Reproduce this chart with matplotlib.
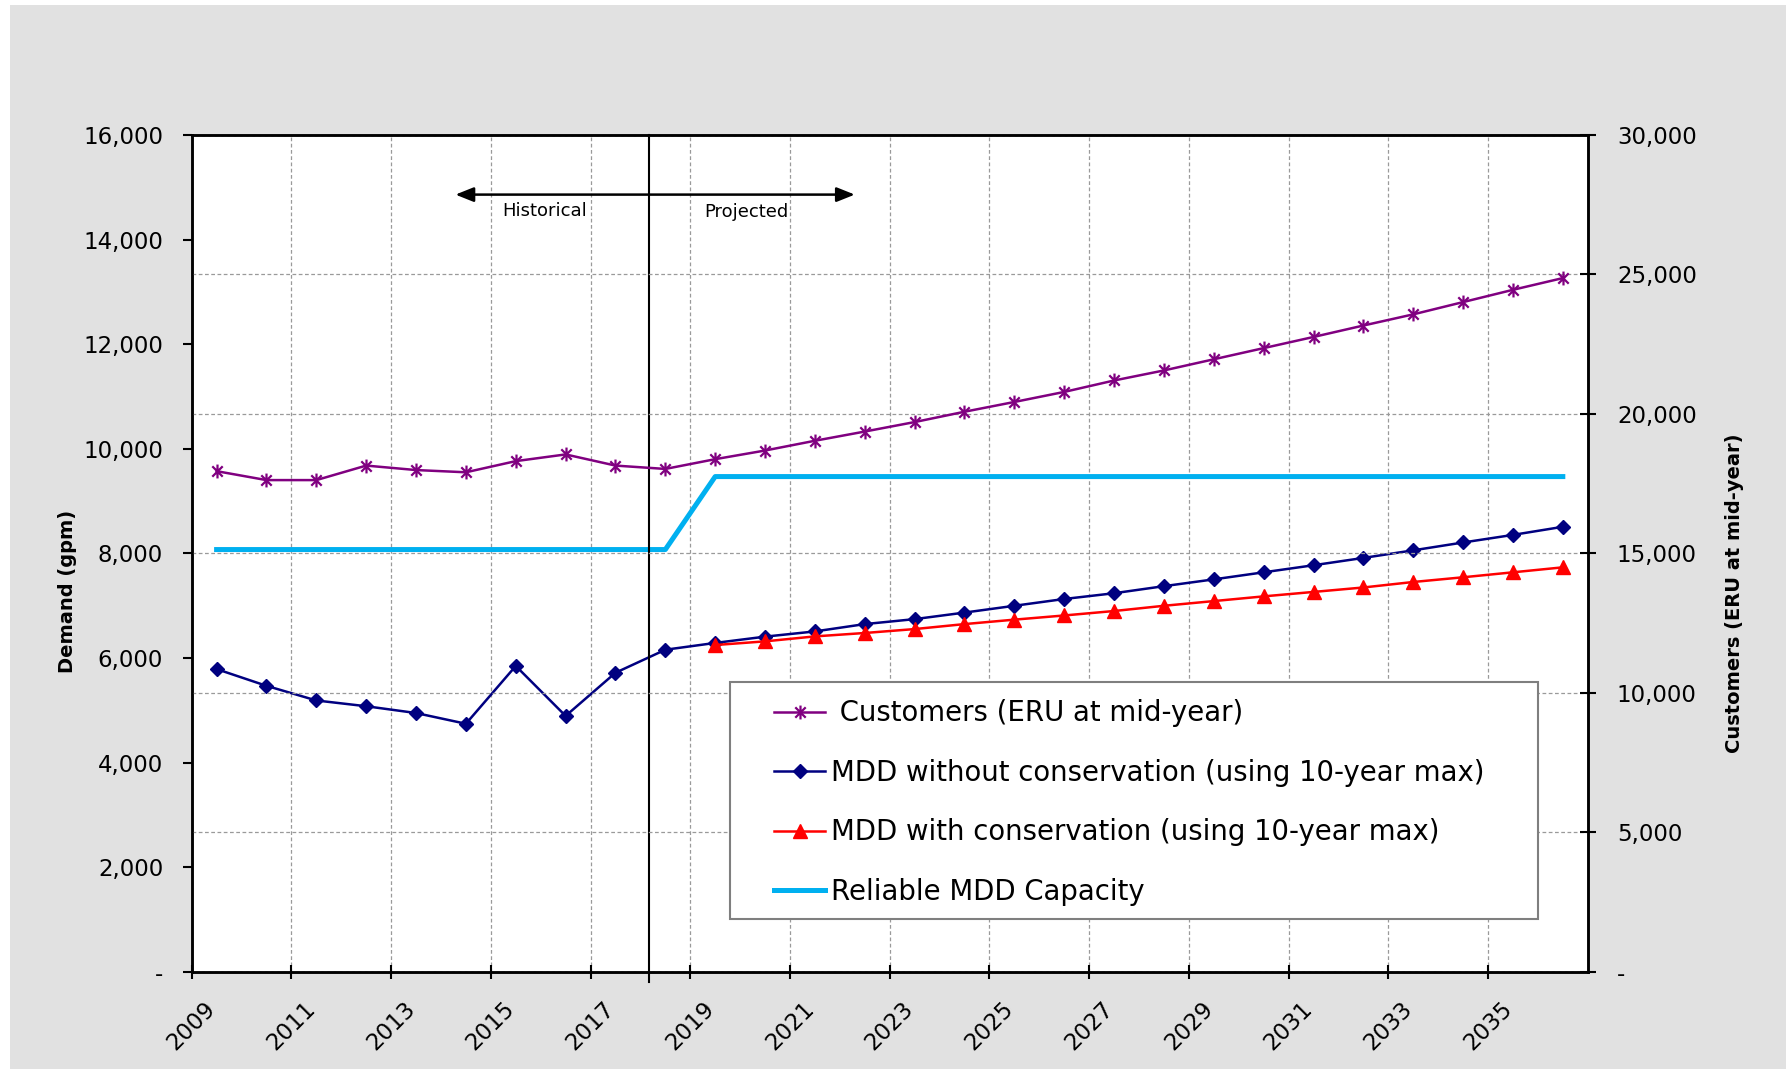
import matplotlib
matplotlib.use("Agg")
import matplotlib.pyplot as plt
from matplotlib.path import Path
from matplotlib.patches import Rectangle
from matplotlib.ticker import FuncFormatter, MultipleLocator

plt.rcParams['font.family'] = ['DejaVu Sans']

# yearly values, plotted at mid-year
years = list(range(2009, 2037))
customers = [17950, 17630, 17630, 18150, 17990, 17910, 18310, 18550, 18150, 18030,
             18380, 18690, 19040, 19370, 19710, 20080, 20430, 20790, 21200, 21560,
             21960, 22360, 22760, 23170, 23570, 24010, 24450, 24870]
mdd_no_cons = [5790, 5470, 5190, 5080, 4950, 4745, 5850, 4895, 5720, 6160,
               6290, 6410, 6510, 6650, 6745, 6870, 7000, 7130, 7240, 7375,
               7505, 7640, 7775, 7915, 8060, 8210, 8355, 8510]
capacity = [8075, 8075, 8075, 8075, 8075, 8075, 8075, 8075, 8075, 8075,
            9470, 9470, 9470, 9470, 9470, 9470, 9470, 9470, 9470, 9470,
            9470, 9470, 9470, 9470, 9470, 9470, 9470, 9470]
cons_years = list(range(2019, 2037))
mdd_cons = [6250, 6320, 6415, 6480, 6555, 6650, 6735, 6815, 6900, 7000,
            7090, 7180, 7265, 7350, 7455, 7545, 7640, 7735]

split_year = 2018.18
arrow_left, arrow_right, arrow_y = 2014.29, 2022.3, 14860

labels = [' Customers (ERU at mid-year)',
          'MDD without conservation (using 10-year max)',
          'MDD with conservation (using 10-year max)',
          'Reliable MDD Capacity']

x_mid = [y + 0.5 for y in years]
x_cons = [y + 0.5 for y in cons_years]

# asterisk marker: vertical bar plus an X
star = Path([(0, -1), (0, 1), (-0.75, -0.75), (0.75, 0.75), (-0.75, 0.75), (0.75, -0.75)],
            [Path.MOVETO, Path.LINETO, Path.MOVETO, Path.LINETO, Path.MOVETO, Path.LINETO])

fig = plt.figure(figsize=(17.88, 10.72), dpi=100, facecolor='white')
bg = Rectangle((10 / 1788, 3 / 1072), 1776 / 1788, 1064 / 1072,
               transform=fig.transFigure, facecolor='#e1e1e1', edgecolor='none')
bg.set_zorder(-10)
fig.add_artist(bg)

ax = fig.add_axes([0.1072, 0.0933, 0.7808, 0.7808])
ax.set_facecolor('white')
ax2 = ax.twinx()

fmt = FuncFormatter(lambda v, p: '-' if v == 0 else f'{v:,.0f}')

ax.set_xlim(2009, 2037)
ax.set_ylim(0, 16000)
ax2.set_ylim(0, 30000)
ax.set_xticks(list(range(2009, 2036, 2)))
ax.yaxis.set_major_locator(MultipleLocator(2000))
ax2.yaxis.set_major_locator(MultipleLocator(5000))
ax.yaxis.set_major_formatter(fmt)
ax2.yaxis.set_major_formatter(fmt)

grid_kw = dict(color='#9a9a9a', linestyle=(0, (3, 2)), linewidth=0.9)
ax.grid(axis='x', **grid_kw)
ax2.grid(axis='y', **grid_kw)
ax.set_axisbelow(True)
ax2.set_axisbelow(True)

h_cap, = ax.plot(x_mid, capacity, color='#00b0f0', lw=3.6, zorder=3)
h_no, = ax.plot(x_mid, mdd_no_cons, color='#000080', lw=1.8, marker='D', ms=7.5, zorder=4)
h_con, = ax.plot(x_cons, mdd_cons, color='#ff0000', lw=1.8, marker='^', ms=10, zorder=4)
h_cust, = ax2.plot(x_mid, customers, color='#800080', lw=1.8, marker=star, ms=10,
                   mew=1.6, zorder=4)

ax.axvline(split_year, ymin=-0.012, ymax=1, color='black', lw=1.5, clip_on=False, zorder=5)
ax.annotate('', xy=(arrow_left, arrow_y), xytext=(arrow_right, arrow_y),
            arrowprops=dict(arrowstyle='<|-|>,head_length=0.55,head_width=0.22',
                            color='black', lw=1.8, mutation_scale=20,
                            shrinkA=0, shrinkB=0))
ax.text(2016.08, 14554, 'Historical', fontsize=13, ha='center', va='center')
ax.text(2020.12, 14535, 'Projected', fontsize=13, ha='center', va='center')

for side in ('left', 'right', 'top', 'bottom'):
    ax.spines[side].set_linewidth(1.8)
    ax2.spines[side].set_linewidth(1.8)

ax.tick_params(axis='y', direction='out', length=6.5, width=1.5, pad=14, labelsize=16.5)
ax2.tick_params(axis='y', direction='inout', length=12, width=1.5, pad=15, labelsize=16.5)
ax.tick_params(axis='x', direction='inout', length=10, width=1.5, pad=13, labelsize=16.5)
for t in ax.get_xticklabels():
    t.set_rotation(45)
    t.set_ha('center')

ax.set_ylabel('Demand (gpm)', fontsize=14, fontweight='bold')
ax.yaxis.set_label_coords(-0.082, 0.455)
ax2.set_ylabel('Customers (ERU at mid-year)', fontsize=14, fontweight='bold')
ax2.yaxis.set_label_coords(1.098, 0.452)

# legend box drawn as a patch so the padding can be set freely
ax2.add_patch(Rectangle((0.3854, 0.0633), 0.5788, 0.2832, transform=ax2.transAxes,
                        facecolor='white', edgecolor='#7f7f7f', lw=1.5, zorder=6))
leg = ax2.legend([h_cust, h_no, h_con, h_cap], labels, loc='upper left',
                 bbox_to_anchor=(0.4076, 0.342), frameon=False, borderpad=0,
                 fontsize=19.8, handlelength=1.85, handletextpad=0.2,
                 labelspacing=1.14)
leg.set_zorder(7)

fig.savefig('out.png', dpi=100, facecolor=fig.get_facecolor())
